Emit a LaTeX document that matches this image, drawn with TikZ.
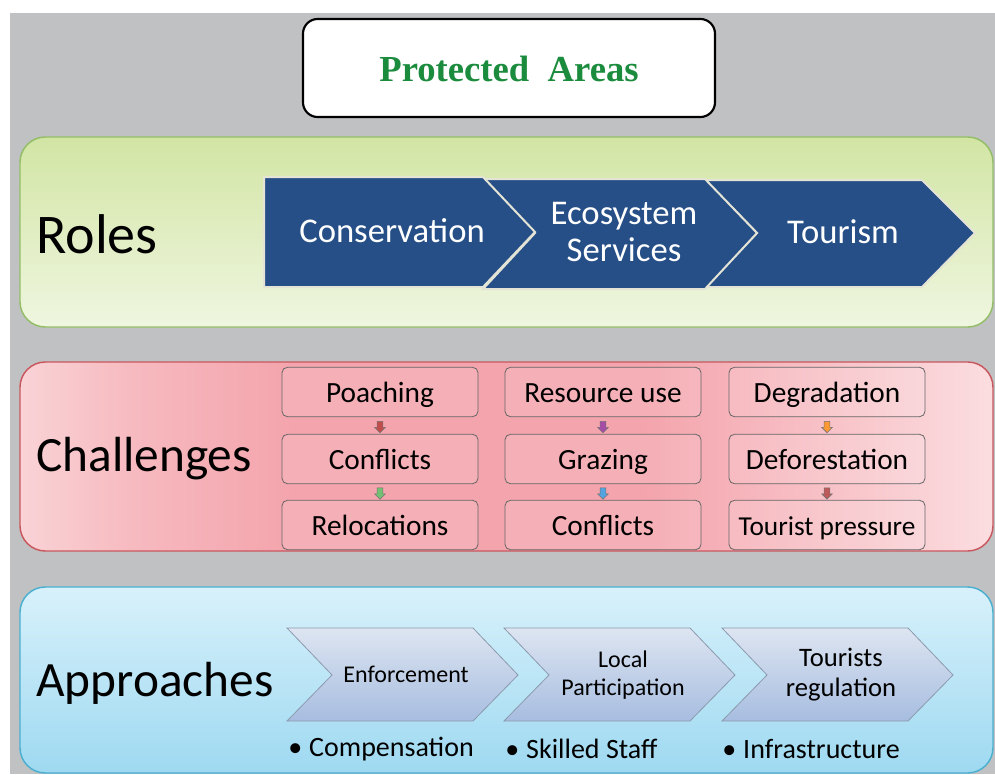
\documentclass[tikz,border=0pt]{standalone}
\usepackage{fontspec}
\setmainfont{Carlito}
\newfontfamily\titlefont{Liberation Serif}
\usetikzlibrary{shapes.arrows}

\definecolor{bggray}{HTML}{C0C1C3}
\definecolor{titlegreen}{HTML}{1B8B3D}
\definecolor{roletop}{HTML}{D2E5A4}
\definecolor{rolebot}{HTML}{EFF6E0}
\definecolor{roleline}{HTML}{93BE67}
\definecolor{roleblue}{HTML}{264F87}
\definecolor{roleedge}{HTML}{E4E4D6}
\definecolor{challight}{HTML}{F9D3D6}
\definecolor{chalmid}{HTML}{F4A4AC}
\definecolor{chalright}{HTML}{FBDDE0}
\definecolor{challine}{HTML}{C8585E}
\definecolor{apptop}{HTML}{D8F1FB}
\definecolor{appbot}{HTML}{9ED9F1}
\definecolor{appline}{HTML}{4BAFD0}
\definecolor{chevtop}{HTML}{DDE5F1}
\definecolor{chevbot}{HTML}{A7BDE0}
\definecolor{chevline}{HTML}{8C9AAD}

% pink band: light at both ends, strong in the middle
\pgfdeclarehorizontalshading{chalshade}{100bp}{color(0bp)=(challight);
  color(25bp)=(challight); color(31bp)=(chalmid!55!challight);
  color(39bp)=(chalmid); color(57bp)=(chalmid); color(75bp)=(chalright);
  color(100bp)=(chalright)}

\begin{document}
\begin{tikzpicture}[x=0.75pt,y=-0.75pt,
  band/.style={rounded corners=19pt,line width=1.1pt},
  bandlabel/.style={anchor=west,inner sep=0pt,font=\fontsize{37}{44}\selectfont},
  rolechev/.style={fill=roleblue,draw=roleedge,line width=1.5pt},
  roletext/.style={text=white,align=center,font=\fontsize{26}{28}\selectfont},
  chalbox/.style={draw=black!60,line width=0.6pt,rounded corners=4pt,
    fill=white,fill opacity=0.12,text opacity=1,minimum width=147pt,
    minimum height=37pt,text height=15.5pt,text depth=0pt,
    font=\fontsize{22}{24}\selectfont},
  smallarrow/.style={single arrow,shape border rotate=270,draw=black!55,
    line width=0.4pt,minimum height=8.5pt,inner sep=2pt,
    single arrow head extend=1.7pt},
  appchev/.style={top color=chevtop,bottom color=chevbot,draw=chevline,line width=0.6pt},
  apptext/.style={align=center,font=\fontsize{18}{21}\selectfont},
  bullet/.style={anchor=west,inner sep=0pt,font=\fontsize{21}{24}\selectfont}]

% background and frame
\useasboundingbox (0,0) rectangle (995,774);
\fill[bggray] (10,13) rectangle (995,774);

% title
\draw[fill=white,line width=1.6pt,rounded corners=11pt] (303,19) rectangle (715,117);
\node (title) at (509,69) {\titlefont\bfseries\color{titlegreen}\fontsize{27.5}{30}\selectfont Protected\ \ Areas};

% bands
\draw[band,draw=roleline,top color=roletop,bottom color=rolebot] (20,137) rectangle (993,327);
\draw[band,draw=challine,shading=chalshade] (20,362) rectangle (993,551);
\draw[band,draw=appline,top color=apptop,bottom color=appbot] (20,587) rectangle (993,773);

\node[bandlabel,font=\fontsize{42}{48}\selectfont] (roles) at (36,234) {Roles};
\node[bandlabel] (challenges) at (36,459) {Challenges};
\node[bandlabel] (approaches) at (36,683) {Approaches};

% roles
\draw[rolechev] (705,180) -- (922,180) -- (975,233) -- (922,287) -- (705,287) -- (757,233) -- cycle;
\draw[rolechev] (483,179) -- (705,179) -- (757,233) -- (705,289) -- (483,289) -- (535,233) -- cycle;
\draw[rolechev] (264,177) -- (483,177) -- (535,232) -- (483,287) -- (264,287) -- cycle;
\node[roletext] (conserv) at (392,231) {Conservation};
\node[roletext] (ecosys) at (624,232) {Ecosystem\\Services};
\node[roletext] (tourism) at (843,232) {Tourism};

% challenges
\node[chalbox] (poach) at (380,392) {Poaching};
\node[chalbox] (confl1) at (380,459) {Conflicts};
\node[chalbox] (reloc) at (380,525) {Relocations};
\node[chalbox] (resuse) at (603,392) {Resource use};
\node[chalbox] (grazing) at (603,459) {Grazing};
\node[chalbox] (confl2) at (603,525) {Conflicts};
\node[chalbox] (degrad) at (827,392) {Degradation};
\node[chalbox] (defor) at (827,459) {Deforestation};
\node[chalbox,font=\fontsize{20.5}{23}\selectfont] (tpress) at (827,525) {Tourist pressure};

\path (poach.south) -- (confl1.north) node[midway,smallarrow,fill=red!65!black!70] {};
\path (confl1.south) -- (reloc.north) node[midway,smallarrow,fill=green!55!black!55] {};
\path (resuse.south) -- (grazing.north) node[midway,smallarrow,fill=violet!70] {};
\path (grazing.south) -- (confl2.north) node[midway,smallarrow,fill=cyan!70!blue!70] {};
\path (degrad.south) -- (defor.north) node[midway,smallarrow,fill=orange!80] {};
\path (defor.south) -- (tpress.north) node[midway,smallarrow,fill=red!60!black!65] {};

% approaches
\draw[appchev] (287,628) -- (473,628) -- (518,675) -- (473,721) -- (287,721) -- (332,675) -- cycle;
\draw[appchev] (504,628) -- (690,628) -- (735,675) -- (690,721) -- (504,721) -- (549,675) -- cycle;
\draw[appchev] (722,628) -- (908,628) -- (953,675) -- (908,721) -- (722,721) -- (767,675) -- cycle;
\node[apptext] (enforce) at (406,674) {Enforcement};
\node[apptext] (localpart) at (623,675) {Local\\Participation};
\node[apptext,font=\fontsize{20}{22.5}\selectfont] (tourreg) at (841,675) {Tourists\\regulation};

\node[bullet] (comp) at (288,749) {\textbullet\hspace{0.25em}Compensation};
\node[bullet] (staff) at (505,749) {\textbullet\hspace{0.25em}Skilled Staff};
\node[bullet] (infra) at (722,749) {\textbullet\hspace{0.25em}Infrastructure};
\end{tikzpicture}
\end{document}
